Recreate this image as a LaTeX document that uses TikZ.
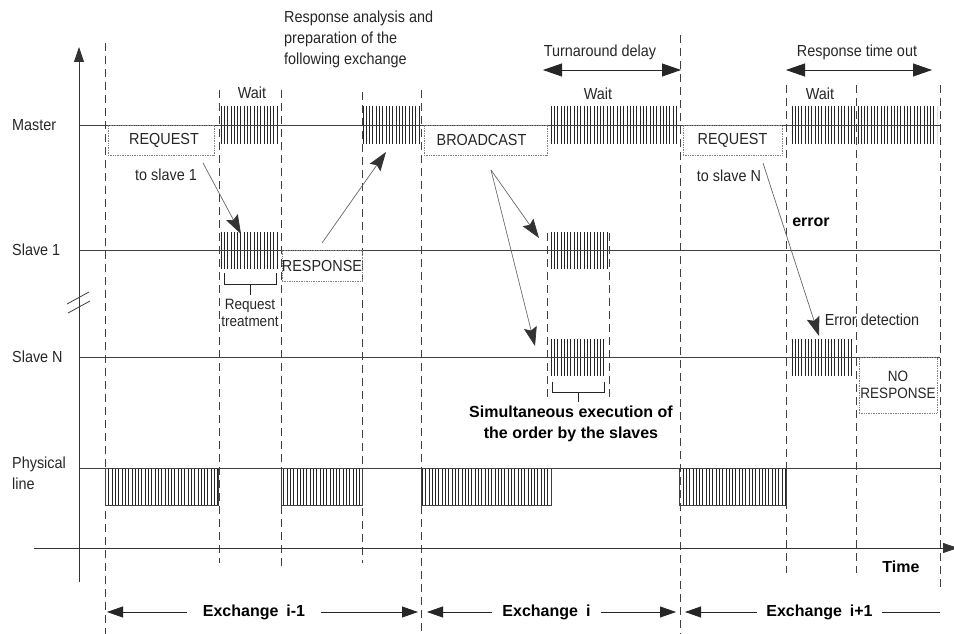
\documentclass[tikz,border=0pt]{standalone}
\usepackage{fontspec}
\setmainfont{Liberation Sans}
\newfontfamily\narrowfont{Liberation Sans}[FakeStretch=0.9]
\usetikzlibrary{arrows.meta,patterns.meta}
\tikzset{
  lbl/.style={font=\narrowfont\fontsize{16}{21}\selectfont, text=black!85, inner sep=1pt},
  smalllbl/.style={font=\narrowfont\fontsize{15}{17}\selectfont, text=black!85, inner sep=1pt},
  boldlbl/.style={font=\bfseries\fontsize{16}{21}\selectfont, text=black, inner sep=1pt},
  timeline/.style={draw=black!75, line width=0.8pt},
  guide/.style={draw=black!75, line width=0.9pt, dash pattern=on 8pt off 5pt},
  hatch/.style={pattern={Lines[angle=90,distance=3.3pt,line width=0.9pt]}, pattern color=black!85},
  physblk/.style={hatch, draw=black!75, line width=0.8pt},
  dotbox/.style={draw=black!50, densely dotted, line width=0.7pt},
  msgarrow/.style={draw=black!60, line width=0.7pt, -{Stealth[length=19pt,width=13pt,inset=3pt,color=black!80]}},
  spanarrow/.style={draw=black!85, line width=0.8pt, {Triangle[length=19pt,width=13pt]}-{Triangle[length=19pt,width=13pt]}},
  exarrow/.style={draw=black!85, line width=0.8pt, -{Triangle[length=16pt,width=11pt]}},
  exline/.style={draw=black!85, line width=0.8pt},
  axisarrow/.style={draw=black!80, line width=0.8pt, -{Triangle[length=15pt,width=10pt]}},
  bracket/.style={draw=black!85, line width=0.8pt},
}
\begin{document}
\begin{tikzpicture}[x=1pt,y=-1pt]
\useasboundingbox (0,0) rectangle (954,634);

% ---- dashed guide lines
\draw[guide] (105,43) -- (105,634);
\draw[guide] (219,90) -- (219,563);
\draw[guide] (281,90) -- (281,567);
\draw[guide] (362,92) -- (362,563);
\draw[guide] (421,90) -- (421,634);
\draw[guide] (547,233) -- (547,400);
\draw[guide] (609,233) -- (609,400);
\draw[guide] (680,35) -- (680,634);
\draw[guide] (786,85) -- (786,573);
\draw[guide] (856,85) -- (856,573);
\draw[guide] (940,85) -- (940,588);

% ---- hatched activity blocks
\fill[hatch] (218,107) rectangle (278,143);
\fill[hatch] (362,107) rectangle (420,143);
\fill[hatch] (549,107) rectangle (677,143);
\fill[hatch] (789,107) rectangle (937,143);
\fill[hatch] (220,232) rectangle (278,268);
\fill[hatch] (548,232) rectangle (608,268);
\fill[hatch] (550,339) rectangle (606,375);
\fill[hatch] (789,339) rectangle (853,375);
\draw[physblk] (105,468) rectangle (218,505);
\draw[physblk] (281,468) rectangle (362,505);
\draw[physblk] (421,468) rectangle (551,505);
\draw[physblk] (679,468) rectangle (786,505);

% ---- time lines
\draw[timeline] (79,125) -- (940,125);
\draw[timeline] (79,250) -- (940,250);
\draw[timeline] (79,357) -- (940,357);
\draw[timeline] (79,468) -- (940,468);

% ---- axes
\coordinate (yb) at (79,582);
\coordinate (yt) at (79,47);
\coordinate (xl) at (34,548);
\coordinate (xr) at (958,548);
\draw[axisarrow] (yb) -- (yt);
\draw[axisarrow] (xl) -- (xr);
\draw[timeline] (67,304) -- (89,292);
\draw[timeline] (68,313) -- (90,301);

% ---- row labels
\node[lbl, anchor=west] (lmaster) at (11,125) {Master};
\node[lbl, anchor=west] (lslave1) at (11,250) {Slave 1};
\node[lbl, anchor=west] (lslaveN) at (11,357) {Slave N};
\node[lbl, anchor=west, align=left] (lphys) at (11,473) {Physical\\line};

% ---- message boxes
\node[dotbox, lbl, minimum width=106pt, minimum height=30pt] (req1) at (161,140) {\hspace*{6pt}REQUEST};
\node[dotbox, lbl, minimum width=123pt, minimum height=30pt] (bcast) at (485.5,140) {BROADCAST\hspace*{8pt}};
\node[dotbox, lbl, minimum width=99pt, minimum height=30pt] (req2) at (732.5,140) {REQUEST};
\node[dotbox, lbl, inner sep=0pt, minimum width=80pt, minimum height=31pt] (resp) at (322,265.5) {RESPONSE};
\node[dotbox, smalllbl, align=center, minimum width=78pt, minimum height=56pt] (nores) at (898,385) {NO\\RESPONSE};

% ---- other texts
\node[lbl, align=left, anchor=west] (analysis) at (283,39) {Response analysis and\\preparation of the\\following exchange};
\node[lbl] (wait1) at (252,93) {Wait};
\node[lbl] (wait2) at (598,94) {Wait};
\node[lbl] (wait3) at (820,94) {Wait};
\node[lbl] (tts1) at (166,175) {to slave 1};
\node[lbl] (ttsN) at (729,176) {to slave N};
\node[lbl] (turn) at (600,52) {Turnaround delay};
\node[lbl] (rto) at (857,52) {Response time out};
\node[smalllbl, align=center] (treat) at (250,313) {Request\\treatment};
\node[boldlbl, align=center] (simul) at (571,424) {Simultaneous execution of\\the order by the slaves};
\node[boldlbl] (err) at (811,222) {error};
\node[lbl] (errdet) at (872,320) {Error detection};
\node[boldlbl] (time) at (901,567) {Time};

% ---- span arrows
\coordinate (td1) at (543,70);
\coordinate (td2) at (681,70);
\coordinate (rt1) at (786,70);
\coordinate (rt2) at (932,70);
\draw[spanarrow] (td1) -- (td2);
\draw[spanarrow] (rt1) -- (rt2);

% ---- message arrows
\coordinate (r1a) at (203,163);
\coordinate (r1b) at (241,234);
\coordinate (rsa) at (322,243);
\coordinate (rsb) at (386,152);
\coordinate (bca) at (491,170);
\coordinate (bcb) at (539,238);
\coordinate (bcc) at (535,346);
\coordinate (rna) at (763,163);
\coordinate (rnb) at (819,336);
\draw[msgarrow] (r1a) -- (r1b);
\draw[msgarrow] (rsa) -- (rsb);
\draw[msgarrow] (bca) -- (bcb);
\draw[msgarrow] (bca) -- (bcc);
\draw[msgarrow] (rna) -- (rnb);

% ---- brackets
\draw[bracket] (224,273) -- (224,284) -- (276,284) -- (276,273);
\draw[bracket] (250,284) -- (250,295);
\draw[bracket] (552,382) -- (552,392) -- (604,392) -- (604,382);
\draw[bracket] (578,392) -- (578,402);

% ---- exchanges
\node[boldlbl, inner xsep=16pt] (ex1) at (254,612) {Exchange\enspace i-1};
\node[boldlbl, inner xsep=10pt] (ex2) at (546.5,612) {Exchange\enspace i};
\node[boldlbl, inner xsep=9pt] (ex3) at (819.5,612) {Exchange\enspace i+1};
\coordinate (e1l) at (107,612);
\coordinate (e1r) at (418,612);
\coordinate (e2l) at (427,612);
\coordinate (e2r) at (676,612);
\coordinate (e3l) at (685,612);
\coordinate (e3r) at (940,612);
\draw[exarrow] (ex1) -- (e1l);
\draw[exarrow] (ex1) -- (e1r);
\draw[exarrow] (ex2) -- (e2l);
\draw[exarrow] (ex2) -- (e2r);
\draw[exarrow] (ex3) -- (e3l);
\draw[exline] (ex3) -- (e3r);
\end{tikzpicture}
\end{document}
